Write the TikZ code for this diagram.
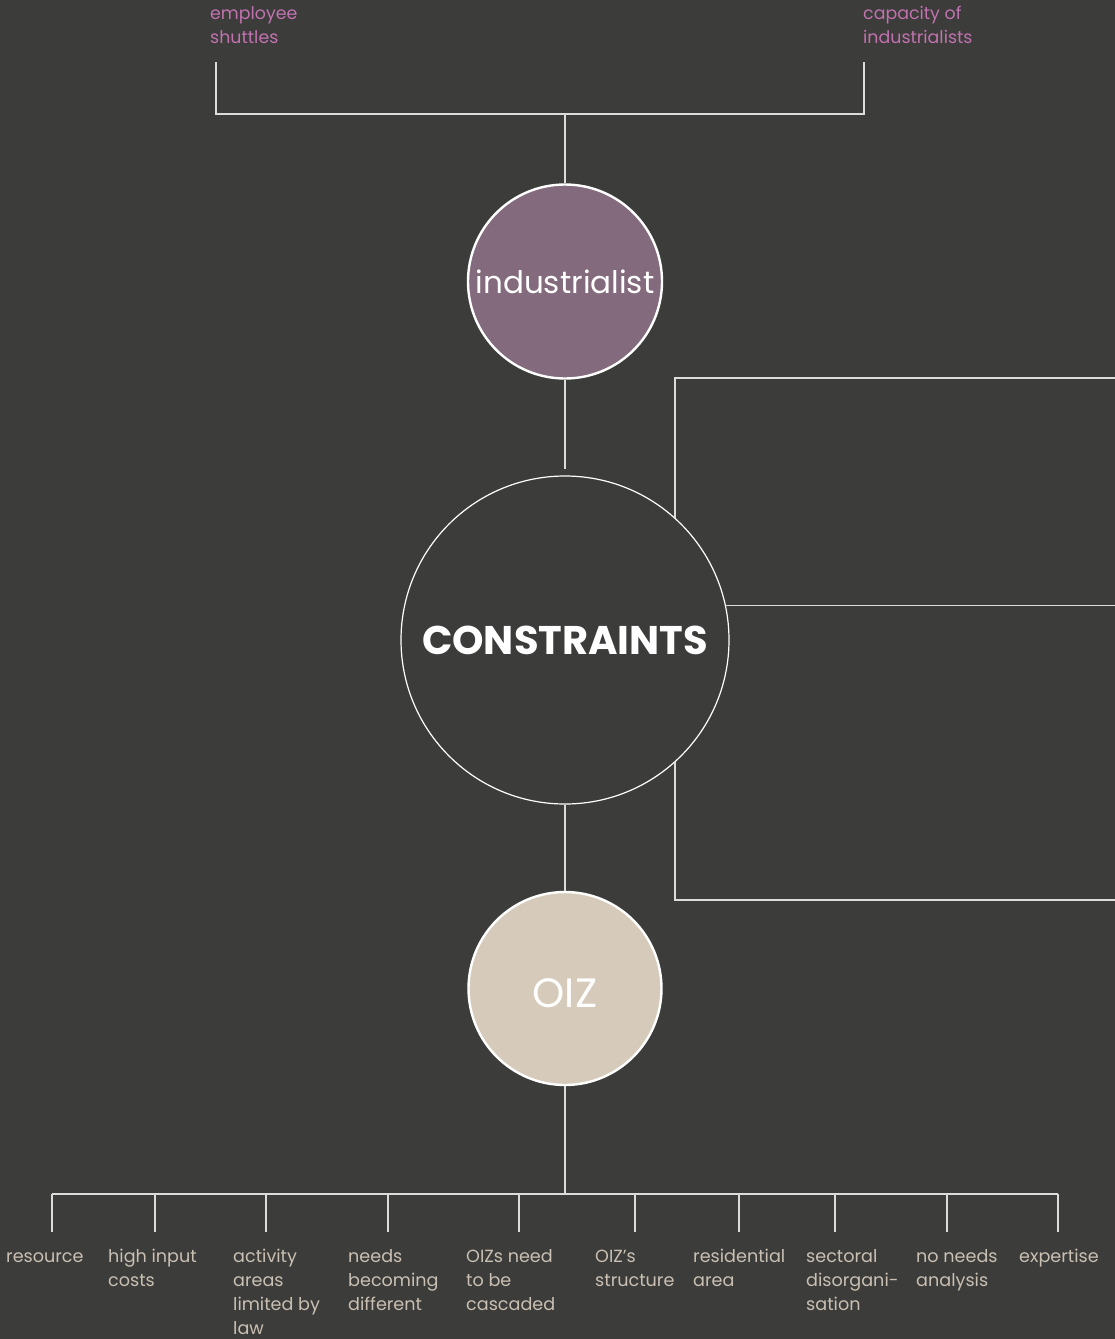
\documentclass[tikz,border=0pt]{standalone}
\usepackage{fontspec}
\setmainfont{Poppins}
\definecolor{bg}{HTML}{3C3C3A}
\definecolor{plum}{HTML}{836A7C}
\definecolor{sand}{HTML}{D6CBBB}
\definecolor{rule}{HTML}{DCDCDC}
\definecolor{pinktext}{HTML}{C172AF}
\definecolor{leaftext}{HTML}{C9C0B3}
\newcommand{\lines}[1]{\begin{tabular}[t]{@{}l@{}}#1\end{tabular}}

\begin{document}
\begin{tikzpicture}[x=1pt,y=-1pt,
  wire/.style={draw=rule, line width=1.4pt},
  hub/.style={circle, draw=white, inner sep=0pt, text=white},
  leaf/.style={anchor=base west, inner sep=0pt, text=leaftext, font=\fontsize{17.6}{24}\selectfont},
  toplbl/.style={anchor=base west, inner sep=0pt, text=pinktext, font=\fontsize{17.4}{24}\selectfont}]

% canvas
\fill[bg] (0,0) rectangle (1115,1339);
\useasboundingbox (0,0) rectangle (1115,1339);

% top labels and bracket
\node[toplbl] (emp) at (210,19) {\lines{employee\\shuttles}};
\node[toplbl] (cap) at (863,19) {\lines{capacity of\\industrialists}};
\coordinate (empfoot) at (216,62);
\coordinate (capfoot) at (864,62);
\coordinate (topbus) at (565,114);
\draw[wire] (empfoot) |- (topbus) -| (capfoot);

% hubs
\node[hub, fill=plum, line width=2.4pt, minimum size=194pt,
      font=\fontsize{31}{36}\selectfont] (ind) at (565,281.5) {industrialist};
\node[hub, fill=bg, line width=1.2pt, minimum size=328pt,
      font=\fontsize{40}{44}\selectfont\bfseries] (con) at (565,640) {CONSTRAINTS};
\node[hub, fill=sand, line width=2.4pt, minimum size=193pt,
      font=\fontsize{41}{46}\selectfont, text height=38.5pt, text depth=0pt] (oiz) at (565,988.5) {OIZ};

% spine
\draw[wire] (topbus) -- (ind.north);
\draw[wire, shorten >=6pt] (ind.south) -- (con.north);
\draw[wire] (con.south) -- (oiz.north);

% right frame
\coordinate (fTR) at (1115,378);
\coordinate (fMR) at (1115,606);
\coordinate (fBR) at (1115,900);
\draw[wire] (con.48.3) |- (fTR);
\draw[wire] (con.12) -- (con.12 -| fMR);
\draw[wire] (con.-48.3) |- (fBR);

% bottom bus
\coordinate (bus) at (565,1194);
\draw[wire] (oiz.south) -- (bus);
\draw[wire] (52,1194) -- (1058,1194);

\node[leaf] (l1)  at (6,1262)   {resource};
\node[leaf] (l2)  at (108,1262) {\lines{high input\\costs}};
\node[leaf] (l3)  at (233,1262) {\lines{activity\\areas\\limited by\\law}};
\node[leaf] (l4)  at (348,1262) {\lines{needs\\becoming\\different}};
\node[leaf] (l5)  at (466,1262) {\lines{OIZs need\\to be\\cascaded}};
\node[leaf] (l6)  at (595,1262) {\lines{OIZ’s\\structure}};
\node[leaf] (l7)  at (693,1262) {\lines{residential\\area}};
\node[leaf] (l8)  at (806,1262) {\lines{sectoral\\disorgani-\\sation}};
\node[leaf] (l9)  at (916,1262) {\lines{no needs\\analysis}};
\node[leaf] (l10) at (1019,1262) {expertise};

\foreach \x in {52,155,266,388,519,635,739,835,947,1058}
  \draw[wire] (\x,1194) -- (\x,1232);
\end{tikzpicture}
\end{document}
